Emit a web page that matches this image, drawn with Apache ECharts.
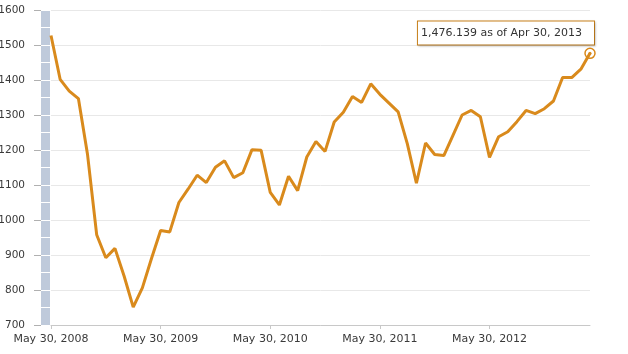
<!DOCTYPE html>
<html>
<head>
<meta charset="utf-8">
<script src="https://cdn.jsdelivr.net/npm/echarts@6/dist/echarts.min.js"></script>
<style>html,body{margin:0;padding:0;background:#fff;}#c{width:628px;height:354px;}</style>
</head>
<body>
<div id="c"></div>
<script>
// Monthly dates, May 2008 .. Apr 2013
const months = [
  "May 2008","Jun 2008","Jul 2008","Aug 2008","Sep 2008","Oct 2008","Nov 2008","Dec 2008",
  "Jan 2009","Feb 2009","Mar 2009","Apr 2009","May 2009","Jun 2009","Jul 2009","Aug 2009","Sep 2009","Oct 2009","Nov 2009","Dec 2009",
  "Jan 2010","Feb 2010","Mar 2010","Apr 2010","May 2010","Jun 2010","Jul 2010","Aug 2010","Sep 2010","Oct 2010","Nov 2010","Dec 2010",
  "Jan 2011","Feb 2011","Mar 2011","Apr 2011","May 2011","Jun 2011","Jul 2011","Aug 2011","Sep 2011","Oct 2011","Nov 2011","Dec 2011",
  "Jan 2012","Feb 2012","Mar 2012","Apr 2012","May 2012","Jun 2012","Jul 2012","Aug 2012","Sep 2012","Oct 2012","Nov 2012","Dec 2012",
  "Jan 2013","Feb 2013","Mar 2013","Apr 2013"
];
const values = [
  1527, 1402, 1368, 1347, 1187, 958, 892, 919,
  840, 751, 806, 890, 970, 966, 1050, 1088, 1128, 1107, 1151, 1169,
  1121, 1135, 1201, 1199, 1079, 1043, 1125, 1084, 1180, 1224, 1196, 1280,
  1308, 1353, 1336, 1389, 1359, 1334, 1309, 1218, 1105, 1220, 1187, 1184,
  1242, 1300, 1313, 1295, 1179, 1238, 1252, 1281, 1313, 1304, 1318, 1340,
  1407, 1407, 1431, 1476.139
];
const xTickLabels = ["May 30, 2008","May 30, 2009","May 30, 2010","May 30, 2011","May 30, 2012"];
const yTicks = [700, 800, 900, 1000, 1100, 1200, 1300, 1400, 1500, 1600];
const lastLabel = "1,476.139 as of Apr 30, 2013";

const lineColor = "#d98a1c";
const font = "DejaVu Sans";
const yMin = yTicks[0], yMax = yTicks[yTicks.length - 1];
const lastIdx = values.length - 1;

const chart = echarts.init(document.getElementById('c'), null, {renderer: 'canvas'});

const option = {
  animation: false,
  backgroundColor: '#fff',
  grid: {left: 51, right: 38, top: 10, bottom: 29, containLabel: false, outerBoundsMode: 'none'},
  xAxis: {
    type: 'category',
    data: months,
    boundaryGap: false,
    axisLine: {show: true, lineStyle: {color: '#c8c8c8', width: 1}},
    axisTick: {show: true, length: 4, lineStyle: {color: '#c8c8c8'},
      interval: (i) => i % 12 === 0},
    axisLabel: {
      interval: (i) => i % 12 === 0,
      formatter: (val, i) => xTickLabels[Math.floor(i / 12)] || '',
      fontFamily: font, fontSize: 11, color: '#3a3a3a', margin: 9
    },
    splitLine: {show: false}
  },
  yAxis: [
    {
      type: 'value', min: yMin, max: yMax, interval: 100,
      position: 'left', offset: 10,
      axisLine: {show: false},
      axisTick: {show: true, length: 7, lineStyle: {color: '#b0b0b0'}},
      axisLabel: {fontFamily: font, fontSize: 10.5, color: '#3a3a3a', margin: 16,
        formatter: (v) => String(v)},
      splitLine: {show: true, lineStyle: {color: '#e8e8e8', width: 1}}
    },
    {
      type: 'value', min: yMin, max: yMax, interval: 100,
      position: 'left', offset: 5.5,
      axisLine: {show: true, lineStyle: {color: '#bfcadb', width: 9, cap: 'butt'}},
      axisTick: {show: false}, axisLabel: {show: false}, splitLine: {show: false}
    },
    {
      type: 'value', min: yMin, max: yMax, interval: 50,
      position: 'left', offset: 10,
      axisLine: {show: false},
      axisTick: {show: true, inside: true, length: 9, lineStyle: {color: '#ffffff', width: 1}},
      axisLabel: {show: false}, splitLine: {show: false}
    }
  ],
  series: [{
    type: 'line',
    yAxisIndex: 0,
    data: values,
    showSymbol: false,
    lineStyle: {color: lineColor, width: 3},
    itemStyle: {color: lineColor},
    z: 5,
    markPoint: {
      silent: true,
      data: [
        {
          coord: [lastIdx, values[lastIdx]],
          symbol: 'circle',
          symbolSize: 10,
          itemStyle: {color: '#fff', borderColor: lineColor, borderWidth: 1.5},
          label: {
            show: true,
            position: 'top',
            align: 'right',
            verticalAlign: 'bottom',
            offset: [4, 2],
            formatter: lastLabel,
            fontFamily: font,
            fontSize: 11,
            color: '#333',
            backgroundColor: '#fff',
            borderColor: '#c8801a',
            borderWidth: 1,
            padding: [6, 12, 6, 3],
            shadowBlur: 2,
            shadowOffsetX: 1,
            shadowOffsetY: 1,
            shadowColor: 'rgba(0,0,0,0.15)'
          }
        },
        {
          coord: [lastIdx, values[lastIdx]],
          symbol: 'circle',
          symbolSize: 3,
          itemStyle: {color: lineColor},
          label: {show: false}
        }
      ]
    }
  }]
};
chart.setOption(option);
</script>
</body>
</html>
